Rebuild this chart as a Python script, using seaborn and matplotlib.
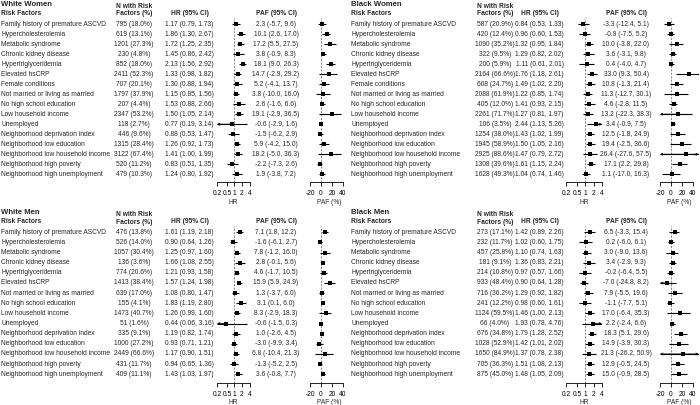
import matplotlib
matplotlib.use("Agg")
import matplotlib.pyplot as plt
import seaborn as sns

# risk factor labels
women_factors = [
    "Family history of premature ASCVD", "Hypercholesterolemia", "Metabolic syndrome",
    "Chronic kidney disease", "Hypertriglyceridemia", "Elevated hsCRP", "Female conditions",
    "Not married or living as married", "No high school education", "Low household income",
    "Unemployed", "Neighborhood deprivation index", "Neighborhood low education",
    "Neighborhood low household income", "Neighborhood high poverty",
    "Neighborhood high unemployment",
]
men_factors = [f for f in women_factors if f != "Female conditions"]

# White women
ww_count = [795, 619, 1201, 230, 852, 2411, 707, 1797, 207, 2347, 118, 446, 1315, 3122, 520, 479]
ww_pct = [18.0, 13.1, 27.3, 4.8, 18.0, 52.3, 20.1, 37.9, 4.4, 53.2, 2.7, 9.6, 28.4, 67.4, 11.2, 10.3]
ww_hr = [1.17, 1.86, 1.72, 1.45, 2.13, 1.33, 1.30, 1.15, 1.53, 1.50, 0.77, 0.88, 1.26, 1.41, 0.83, 1.24]
ww_hr_lo = [0.79, 1.30, 1.25, 0.86, 1.56, 0.98, 0.88, 0.85, 0.88, 1.05, 0.19, 0.53, 0.92, 1.00, 0.51, 0.80]
ww_hr_hi = [1.73, 2.67, 2.35, 2.42, 2.92, 1.82, 1.94, 1.56, 2.66, 2.14, 3.14, 1.47, 1.73, 1.99, 1.35, 1.92]
ww_paf = [2.3, 10.1, 17.2, 3.8, 18.1, 14.7, 5.2, 3.8, 2.6, 19.1, -0.6, -1.5, 5.9, 18.2, -2.2, 1.9]
ww_paf_lo = [-5.7, 2.6, 5.5, -0.9, 9.0, -2.9, -4.1, -10.0, -1.6, -2.9, -2.9, -6.2, -4.2, -5.0, -7.3, -3.8]
ww_paf_hi = [9.6, 17.0, 27.5, 8.3, 26.3, 29.2, 13.7, 16.0, 6.6, 36.5, 1.6, 2.9, 15.0, 36.3, 2.6, 7.2]

# Black women
bw_count = [587, 420, 1090, 322, 200, 2164, 608, 2088, 405, 2261, 106, 1254, 1945, 2925, 1308, 1628]
bw_pct = [20.9, 12.4, 35.2, 9.5, 5.9, 66.6, 24.7, 61.9, 12.0, 71.7, 3.5, 38.0, 58.9, 88.6, 39.6, 49.3]
bw_hr = [0.84, 0.96, 1.32, 1.29, 1.11, 1.76, 1.49, 1.22, 1.41, 1.27, 2.44, 1.43, 1.50, 1.47, 1.61, 1.04]
bw_hr_lo = [0.53, 0.60, 0.95, 0.82, 0.61, 1.18, 1.02, 0.85, 0.93, 0.81, 1.13, 1.02, 1.05, 0.79, 1.15, 0.74]
bw_hr_hi = [1.33, 1.53, 1.84, 2.02, 2.01, 2.61, 2.20, 1.74, 2.15, 1.97, 5.26, 1.99, 2.16, 2.72, 2.24, 1.46]
bw_paf = [-3.3, -0.9, 10.0, 3.6, 0.4, 33.0, 10.8, 11.3, 4.6, 13.2, 3.4, 12.5, 19.4, 26.4, 17.1, 1.1]
bw_paf_lo = [-12.4, -7.5, -3.8, -3.1, -4.0, 9.3, -1.3, -12.7, -2.8, -22.3, -0.9, -1.8, -2.5, -27.6, 2.2, -17.0]
bw_paf_hi = [5.1, 5.2, 22.0, 9.8, 4.7, 50.4, 21.4, 30.1, 11.5, 38.3, 7.5, 24.9, 36.6, 57.5, 29.8, 16.3]

# White men
wm_count = [476, 526, 1057, 136, 774, 1413, 639, 155, 1473, 51, 335, 1000, 2449, 431, 409]
wm_pct = [13.8, 14.0, 30.4, 3.6, 20.6, 38.4, 17.0, 4.1, 40.7, 1.6, 9.1, 27.2, 66.6, 11.7, 11.1]
wm_hr = [1.61, 0.90, 1.25, 1.66, 1.21, 1.57, 1.08, 1.83, 1.26, 0.44, 1.19, 0.93, 1.17, 0.94, 1.43]
wm_hr_lo = [1.19, 0.64, 0.97, 1.08, 0.93, 1.24, 0.80, 1.19, 0.99, 0.06, 0.82, 0.71, 0.90, 0.65, 1.03]
wm_hr_hi = [2.18, 1.26, 1.60, 2.55, 1.58, 1.98, 1.47, 2.80, 1.60, 3.16, 1.74, 1.21, 1.51, 1.36, 1.97]
wm_paf = [7.1, -1.6, 7.8, 2.8, 4.6, 15.9, 1.3, 3.1, 8.3, -0.6, 1.0, -3.0, 6.8, -1.3, 3.6]
wm_paf_lo = [1.8, -6.1, -1.2, -0.1, -1.7, 5.9, -3.7, 0.1, -2.9, -1.5, -2.6, -9.9, -10.4, -5.2, -0.8]
wm_paf_hi = [12.2, 2.7, 16.0, 5.6, 10.5, 24.9, 6.0, 6.0, 18.3, 0.3, 4.5, 3.4, 21.3, 2.5, 7.7]

# Black men
bm_count = [273, 232, 457, 181, 214, 933, 716, 241, 1124, 66, 676, 1028, 1650, 705, 875]
bm_pct = [17.1, 11.7, 25.8, 9.1, 10.8, 48.4, 36.2, 12.2, 59.5, 4.0, 34.8, 52.9, 84.9, 36.3, 45.0]
bm_hr = [1.42, 1.02, 1.10, 1.36, 0.97, 0.90, 1.29, 0.98, 1.46, 1.93, 1.79, 1.42, 1.37, 1.51, 1.48]
bm_hr_lo = [0.89, 0.60, 0.74, 0.83, 0.57, 0.64, 0.92, 0.60, 1.00, 0.78, 1.28, 1.01, 0.78, 1.08, 1.05]
bm_hr_hi = [2.26, 1.75, 1.63, 2.21, 1.66, 1.28, 1.82, 1.61, 2.13, 4.76, 2.52, 2.02, 2.38, 2.13, 2.09]
bm_paf = [6.5, 0.2, 3.0, 3.4, -0.2, -7.0, 7.9, -1.1, 17.0, 2.2, 18.3, 14.9, 21.3, 12.9, 15.0]
bm_paf_lo = [-3.3, -6.0, -9.0, -2.9, -6.4, -24.8, -5.5, -7.7, -6.4, -2.4, 5.1, -3.9, -26.2, -0.5, -0.9]
bm_paf_hi = [15.4, 6.1, 13.6, 9.3, 5.5, 8.2, 19.6, 5.1, 35.3, 6.6, 29.6, 30.3, 50.9, 24.5, 28.5]

hr_ticks = [0.2, 0.5, 1, 2, 4]
paf_ticks = [-20, 0, 20, 40]

sns.set_theme(style="ticks")
plt.rcParams['font.family'] = ['Liberation Sans', 'DejaVu Sans']

W, H = 700, 405
FS = 4.8
fig = plt.figure(figsize=(7, 4.05), dpi=100)
canvas = fig.add_axes([0, 0, 1, 1])
canvas.set_xlim(0, W)
canvas.set_ylim(H, 0)
canvas.axis('off')


def px_axes(x0, x1, y0, y1):
    return fig.add_axes([x0 / W, 1 - y1 / H, (x1 - x0) / W, (y1 - y0) / H])


def forest(ax, est, lo, hi, ys, xmin, xmax, ref, ticks, xlabel):
    ax.axvline(ref, color='#555555', lw=0.5, ls=(0, (3, 2)), zorder=1)
    for e, l, h, y in zip(est, lo, hi, ys):
        ax.plot([max(l, xmin), min(h, xmax)], [y, y], color='black', lw=0.8,
                solid_capstyle='butt', zorder=2)
        arrow = dict(arrowstyle='->', lw=0.6, color='black', shrinkA=0, shrinkB=0,
                     mutation_scale=3.5)
        if l < xmin:
            ax.annotate('', xy=(xmin, y), xytext=(e, y), arrowprops=arrow, annotation_clip=False)
        if h > xmax:
            ax.annotate('', xy=(xmax, y), xytext=(e, y), arrowprops=arrow, annotation_clip=False)
    sns.scatterplot(x=est, y=ys, marker='s', color='black', s=11, linewidth=0,
                    ax=ax, legend=False, zorder=3)
    ax.set_xlim(xmin, xmax)
    ax.set_xticks(ticks)
    ax.set_xticklabels([f"{t:g}" for t in ticks])
    ax.xaxis.set_minor_locator(matplotlib.ticker.NullLocator())
    ax.set_yticks([])
    ax.set_ylabel('')
    for s in ['top', 'left', 'right']:
        ax.spines[s].set_visible(False)
    ax.spines['bottom'].set_bounds(ticks[0], ticks[-1])
    ax.spines['bottom'].set_linewidth(0.6)
    ax.spines['bottom'].set_color('black')
    ax.tick_params(axis='x', direction='out', length=3, width=0.6, labelsize=FS,
                   pad=3, colors='black', bottom=True)
    ax.set_xlabel(xlabel, fontsize=FS, labelpad=1.2)
    ax.patch.set_visible(False)


def panel(ox, title, factors, counts, pcts, hr, hr_lo, hr_hi, paf, paf_lo, paf_hi,
          row0, step, axis_y, n_x, hr_px):
    ys = [row0 + step * i for i in range(len(factors))]
    canvas.text(ox + 1, row0 - 20, title, fontsize=5.6, weight='bold', va='center')
    canvas.text(ox + 1, row0 - 10.5, "Risk Factors", fontsize=FS, weight='bold', va='center')
    canvas.text(ox + n_x, row0 - 17.3, "N with Risk", fontsize=FS, weight='bold',
                va='center', ha='center')
    canvas.text(ox + n_x, row0 - 10.2, "Factors (%)", fontsize=FS, weight='bold',
                va='center', ha='center')
    canvas.text(ox + 189.5, row0 - 10.5, "HR (95% CI)", fontsize=FS, weight='bold',
                va='center', ha='center')
    canvas.text(ox + 276, row0 - 10.5, "PAF (95% CI)", fontsize=FS, weight='bold',
                va='center', ha='center')
    for i, y in enumerate(ys):
        canvas.text(ox + 1, y, factors[i], fontsize=FS, va='center')
        canvas.text(ox + n_x, y, f"{counts[i]} ({pcts[i]:.1f}%)", fontsize=FS,
                    va='center', ha='center')
        canvas.text(ox + 189.5, y, f"{hr[i]:.2f} ({hr_lo[i]:.2f}, {hr_hi[i]:.2f})",
                    fontsize=FS, va='center', ha='center')
        canvas.text(ox + 276, y, f"{paf[i]:.1f} ({paf_lo[i]:.1f}, {paf_hi[i]:.1f})",
                    fontsize=FS, va='center', ha='center')

    top = row0 - 6
    ax_hr = px_axes(ox + hr_px[0], ox + hr_px[1], top, axis_y)
    ax_hr.set_xscale('log')
    forest(ax_hr, hr, hr_lo, hr_hi, ys, 0.2, 4, 1, hr_ticks, "HR")
    ax_hr.set_ylim(axis_y, top)

    ax_paf = px_axes(ox + 310, ox + 310 + 70.5 * 0.55, top, axis_y)
    forest(ax_paf, paf, paf_lo, paf_hi, ys, -20, 50.5, 0, paf_ticks, "PAF (%)")
    ax_paf.set_ylim(axis_y, top)


panel(0, "White Women", women_factors, ww_count, ww_pct, ww_hr, ww_hr_lo, ww_hr_hi,
      ww_paf, ww_paf_lo, ww_paf_hi, 24, 10.02, 181.7, 134, (217, 249.5))
panel(350, "Black Women", women_factors, bw_count, bw_pct, bw_hr, bw_hr_lo, bw_hr_hi,
      bw_paf, bw_paf_lo, bw_paf_hi, 24, 10.02, 181.7, 145, (216, 252))
panel(0, "White Men", men_factors, wm_count, wm_pct, wm_hr, wm_hr_lo, wm_hr_hi,
      wm_paf, wm_paf_lo, wm_paf_hi, 232.3, 10.14, 382.5, 134, (217, 249.5))
panel(350, "Black Men", men_factors, bm_count, bm_pct, bm_hr, bm_hr_lo, bm_hr_hi,
      bm_paf, bm_paf_lo, bm_paf_hi, 232.3, 10.14, 382.5, 145, (216, 252))

fig.savefig("out.png", dpi=100, facecolor='white')
